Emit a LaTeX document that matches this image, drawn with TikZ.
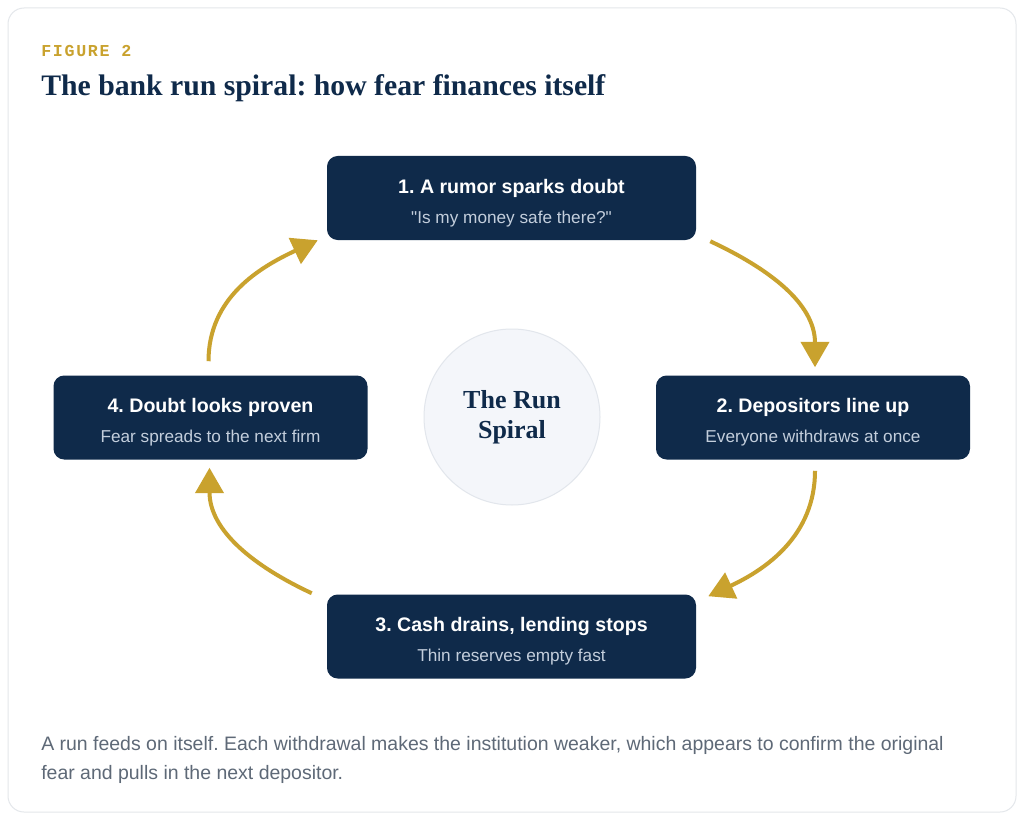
\documentclass[tikz,border=0pt]{standalone}
\usepackage{fontspec}
\usepackage{xcolor}
\usetikzlibrary{arrows.meta,calc,positioning}
\setmainfont{Liberation Sans}
\newfontfamily\headfont{Liberation Serif}
\newfontfamily\tagfont[LetterSpace=10]{Liberation Mono}
\frenchspacing

\definecolor{navy}{HTML}{0F2A4A}
\definecolor{gold}{HTML}{C9A22E}
\definecolor{subtext}{HTML}{C3CEDC}
\definecolor{captext}{HTML}{5E6977}
\definecolor{cardline}{HTML}{E4E7EB}
\definecolor{hubfill}{HTML}{F4F6FA}
\definecolor{hubline}{HTML}{E2E6EC}

\tikzset{
  stepbox/.style={fill=navy, rounded corners=8pt, minimum height=63pt, inner sep=0pt,
    align=center, text=white, font=\fontsize{14.7}{22.5}\selectfont},
  flow/.style={draw=gold, line width=3pt, -{Triangle[length=19pt,width=21pt]}},
}
\newcommand{\steplabel}[2]{\rule{0pt}{17.8pt}\textbf{#1}\\{\fontsize{12.9}{22.5}\selectfont\color{subtext}#2}}

\begin{document}
\begin{tikzpicture}[x=0.75pt,y=0.75pt]
  \useasboundingbox (0,0) rectangle (1024,-820);
  \fill[white] (0,0) rectangle (1024,-820);
  \draw[cardline, fill=white, line width=0.75pt, rounded corners=12pt] (8,-8) rectangle (1016,-812);

  % heading
  \node[anchor=base west, inner sep=0pt, text=gold, font=\tagfont\bfseries\fontsize{12.5}{14}\selectfont] (tag) at (41,-57) {FIGURE 2};
  \node[anchor=base west, inner sep=0pt, text=navy, font=\headfont\bfseries\fontsize{22.3}{26}\selectfont] (title) at (41,-96) {The bank run spiral: how fear finances itself};

  % the four steps and the hub
  \node[circle, minimum size=132pt, fill=hubfill, draw=hubline, line width=0.75pt, align=center, text=navy,
    font=\headfont\bfseries\fontsize{19.5}{22.5}\selectfont] (hub) at (512,-417) {The Run\\Spiral};
  \node[stepbox, minimum width=276.75pt] (rumor) at (511.5,-198) {\steplabel{1. A rumor sparks doubt}{\textquotedbl Is my money safe there?\textquotedbl}};
  \node[stepbox, minimum width=235.5pt] (lineup) at (813,-417.5) {\steplabel{2. Depositors line up}{Everyone withdraws at once}};
  \node[stepbox, minimum width=276.75pt] (drain) at (511.5,-636.5) {\steplabel{3. Cash drains, lending stops}{Thin reserves empty fast}};
  \node[stepbox, minimum width=235.5pt] (proven) at (210.5,-417.5) {\steplabel{4. Doubt looks proven}{Fear spreads to the next firm}};

  % loop arrows
  \draw[flow] ($(rumor.south east)+(14,-1)$) to[out=-25, in=90] ($(lineup.north)+(2,8)$);
  \draw[flow] ($(lineup.south)+(2,-11)$) to[out=-90, in=25] ($(drain.north east)+(12,-2)$);
  \draw[flow] ($(drain.north west)+(-15,1)$) to[out=155, in=-90] ($(proven.south)+(-1,-8)$);
  \draw[flow] ($(proven.north)+(-2,14)$) to[out=90, in=205] ($(rumor.south west)+(-9,0)$);

  % caption
  \node[anchor=base west, inner sep=0pt, align=left, text=captext, font=\fontsize{14.6}{21.75}\selectfont] (caption) at (41,-779)
    {A run feeds on itself. Each withdrawal makes the institution weaker, which appears to confirm the original\\fear and pulls in the next depositor.};
\end{tikzpicture}
\end{document}
